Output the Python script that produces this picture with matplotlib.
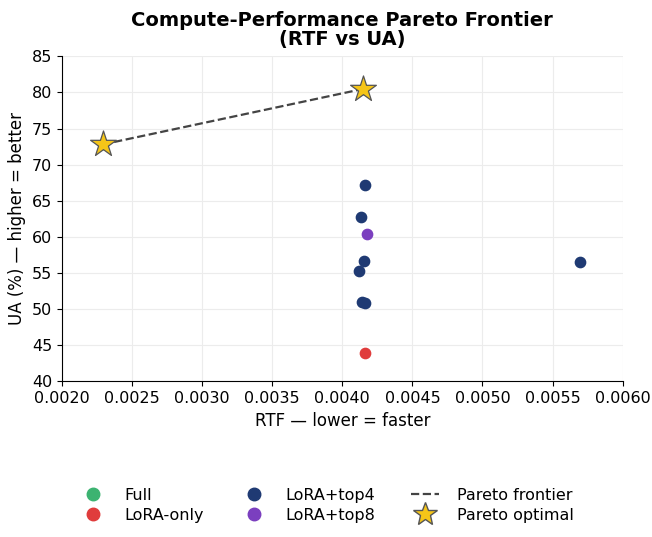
import matplotlib.pyplot as plt
from matplotlib.lines import Line2D

# data (RTF, UA %)
full_rtf = [0.00229, 0.00415]
full_ua = [72.8, 80.5]

lora_rtf = [0.004165]
lora_ua = [43.9]

top4_rtf = [0.004165, 0.004135, 0.004155, 0.00412, 0.004143, 0.004165, 0.005698]
top4_ua = [67.2, 62.7, 56.6, 55.3, 50.95, 50.85, 56.5]

top8_rtf = [0.004175]
top8_ua = [60.4]

pareto_rtf = [0.00229, 0.00415]
pareto_ua = [72.8, 80.5]

colors = {
    "Full": "#3cb371",
    "LoRA-only": "#e03c3c",
    "LoRA+top4": "#1f3a73",
    "LoRA+top8": "#7b3fbf",
}

fig, ax = plt.subplots(figsize=(6.52, 5.37), dpi=100)

ax.scatter(full_rtf, full_ua, s=55, color=colors["Full"], zorder=3)
ax.scatter(lora_rtf, lora_ua, s=55, color=colors["LoRA-only"], zorder=3)
ax.scatter(top4_rtf, top4_ua, s=55, color=colors["LoRA+top4"], zorder=3)
ax.scatter(top8_rtf, top8_ua, s=55, color=colors["LoRA+top8"], zorder=3)

ax.plot(pareto_rtf, pareto_ua, "--", color="#444444", lw=1.6, zorder=4)
ax.scatter(pareto_rtf, pareto_ua, marker="*", s=380, color="#f5c518",
           edgecolors="#555555", linewidths=0.9, zorder=5)

ax.set_xlim(0.002, 0.006)
ax.set_ylim(40, 85)
ax.set_xlabel("RTF — lower = faster", fontsize=12)
ax.set_ylabel("UA (%) — higher = better", fontsize=12)
ax.set_title("Compute-Performance Pareto Frontier\n(RTF vs UA)",
             fontsize=14, fontweight="bold", linespacing=1.05, pad=8)
ax.tick_params(labelsize=11.5)
ax.grid(True, color="#ececec", lw=0.8)
ax.set_axisbelow(True)
ax.spines["top"].set_visible(False)
ax.spines["right"].set_visible(False)

handles = [
    Line2D([], [], marker="o", ls="", color=colors["Full"], markersize=9, label="Full"),
    Line2D([], [], marker="o", ls="", color=colors["LoRA-only"], markersize=9, label="LoRA-only"),
    Line2D([], [], marker="o", ls="", color=colors["LoRA+top4"], markersize=9, label="LoRA+top4"),
    Line2D([], [], marker="o", ls="", color=colors["LoRA+top8"], markersize=9, label="LoRA+top8"),
    Line2D([], [], ls="--", color="#444444", lw=1.6, label="Pareto frontier"),
    Line2D([], [], marker="*", ls="", color="#f5c518", markeredgecolor="#555555",
           markersize=18, label="Pareto optimal"),
]
fig.legend(handles=handles, loc="lower center", ncol=3, frameon=False,
           fontsize=11.5, bbox_to_anchor=(0.5, 0.0), columnspacing=2.2,
           handletextpad=1.1, handlelength=1.8, labelspacing=0.3)

fig.subplots_adjust(left=0.095, right=0.955, top=0.895, bottom=0.29)
fig.savefig("out.png")
